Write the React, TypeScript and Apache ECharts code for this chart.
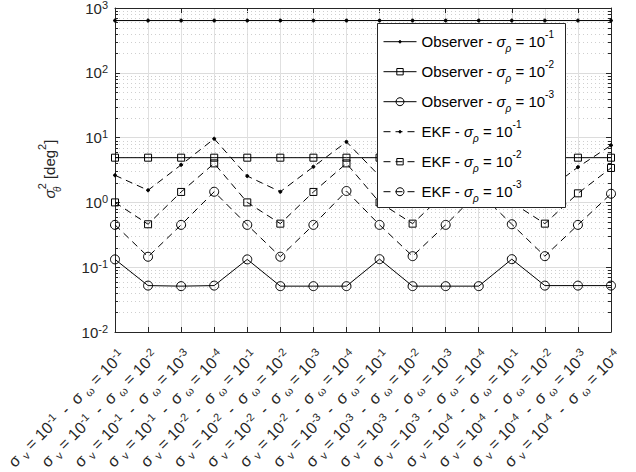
import React, { useEffect, useRef } from 'react';
import * as echarts from 'echarts';

// category labels: exponents of sigma_v and sigma_omega
const sigmaVExp = ['-1', '-1', '-1', '-1', '-2', '-2', '-2', '-2', '-3', '-3', '-3', '-3', '-4', '-4', '-4', '-4'];
const sigmaWExp = ['-1', '-2', '-3', '-4', '-1', '-2', '-3', '-4', '-1', '-2', '-3', '-4', '-1', '-2', '-3', '-4'];
const categories = sigmaVExp.map((v, i) => `v${v}_w${sigmaWExp[i]}`);

// series values
const observerRho1 = [640, 640, 640, 640, 640, 640, 640, 640, 640, 640, 640, 640, 640, 640, 640, 640];
const observerRho2 = [4.9, 4.9, 4.9, 4.9, 4.9, 4.9, 4.9, 4.9, 4.9, 4.9, 4.9, 4.9, 4.9, 4.9, 4.9, 4.9];
const observerRho3 = [0.132, 0.052, 0.051, 0.052, 0.132, 0.051, 0.051, 0.051, 0.133, 0.051, 0.051, 0.051, 0.133, 0.052, 0.052, 0.052];
const ekfRho1 = [2.62, 1.54, 3.8, 9.6, 2.55, 1.46, 3.55, 8.6, 2.55, 1.46, 3.5, 8.3, 2.5, 1.45, 3.5, 7.6];
const ekfRho2 = [1.0, 0.46, 1.45, 4.0, 1.0, 0.47, 1.45, 4.0, 1.0, 0.47, 1.42, 3.8, 1.0, 0.47, 1.38, 3.4];
const ekfRho3 = [0.45, 0.145, 0.45, 1.46, 0.45, 0.145, 0.45, 1.5, 0.45, 0.148, 0.45, 1.45, 0.46, 0.148, 0.45, 1.36];

const seriesNames = ['obs1', 'obs2', 'obs3', 'ekf1', 'ekf2', 'ekf3'];
const legendPrefix = ['Observer - ', 'Observer - ', 'Observer - ', 'EKF - ', 'EKF - ', 'EKF - '];
const legendRhoExp = ['-1', '-2', '-3', '-1', '-2', '-3'];

// minor log ticks
const minorTicks = [
  0.02, 0.03, 0.04, 0.05, 0.06, 0.07, 0.08, 0.09,
  0.2, 0.3, 0.4, 0.5, 0.6, 0.7, 0.8, 0.9,
  2, 3, 4, 5, 6, 7, 8, 9,
  20, 30, 40, 50, 60, 70, 80, 90,
  200, 300, 400, 500, 600, 700, 800, 900,
];

const FONT = 'Liberation Sans, Arial, Helvetica, sans-serif';
const TXT = '#262626';

export default function App() {
  const ref = useRef<HTMLDivElement>(null);
  useEffect(() => {
    document.body.style.margin = '0';
    const chart = echarts.init(ref.current!, null, { renderer: 'svg' });

    const richBase = {
      t: { fontSize: 15, fontFamily: FONT, color: '#000', lineHeight: 24 },
      i: { fontSize: 15, fontFamily: FONT, color: '#000', fontStyle: 'italic', lineHeight: 24 },
      sub: { fontSize: 10, fontFamily: FONT, color: '#000', fontStyle: 'italic', verticalAlign: 'bottom' },
      sup: { fontSize: 10, fontFamily: FONT, color: '#000', verticalAlign: 'top' },
    };

    const seriesData = [observerRho1, observerRho2, observerRho3, ekfRho1, ekfRho2, ekfRho3];
    const symbols = ['circle', 'rect', 'circle', 'circle', 'rect', 'circle'];
    const symbolSizes = [3, 7, 9, 3, 7, 9];
    const legendIconHeights = [3, 8, 10, 3, 8, 10];
    const filled = [true, false, false, true, false, false];

    const lineSeries = seriesData.map((d, k) => ({
      name: seriesNames[k],
      type: 'line',
      data: d,
      symbol: symbols[k],
      symbolSize: symbolSizes[k],
      showSymbol: true,
      z: 3,
      lineStyle: { color: '#000', width: 1, type: k < 3 ? 'solid' : [7, 5] },
      itemStyle: {
        color: filled[k] ? '#000' : 'rgba(0,0,0,0)',
        borderColor: '#000',
        borderWidth: 1,
      },
      emphasis: { disabled: true },
    }));

    const minorSeries = {
      type: 'custom',
      silent: true,
      z: 1,
      xAxisIndex: 0,
      yAxisIndex: 0,
      data: minorTicks.map((v) => [0, v]),
      encode: { x: 0, y: 1 },
      renderItem: (params: any, api: any) => {
        const pt = api.coord([0, api.value(1)]);
        const cs = params.coordSys;
        const y = Math.round(pt[1]) + 0.5;
        return {
          type: 'group',
          children: [
            {
              type: 'line',
              shape: { x1: cs.x, y1: y, x2: cs.x + cs.width, y2: y },
              style: { stroke: '#cfcfcf', lineWidth: 1, lineDash: [1, 3] },
            },
            {
              type: 'line',
              shape: { x1: cs.x, y1: y, x2: cs.x + 3, y2: y },
              style: { stroke: TXT, lineWidth: 1 },
            },
            {
              type: 'line',
              shape: { x1: cs.x + cs.width - 3, y1: y, x2: cs.x + cs.width, y2: y },
              style: { stroke: TXT, lineWidth: 1 },
            },
          ],
        };
      },
    };

    const legends = seriesNames.map((name, k) => ({
      data: [name],
      orient: 'vertical',
      left: 383,
      top: 29.7 + k * 30,
      padding: 0,
      z: 60,
      itemWidth: 33,
      itemHeight: legendIconHeights[k],
      itemTextGap: 7,
      selectedMode: false,
      lineStyle: { width: 1 },
      itemStyle: { borderWidth: 1 },
      formatter: (n: string) => {
        const i = seriesNames.indexOf(n);
        return `{t|${legendPrefix[i]}}{i|σ}{sub|ρ}{t| = 10}{sup|${legendRhoExp[i]}}`;
      },
      textStyle: { rich: richBase },
    }));

    const xRich = {
      t: { fontSize: 16, fontFamily: FONT, color: TXT, lineHeight: 20 },
      s: { fontSize: 16, fontFamily: FONT, color: TXT, lineHeight: 20 },
      sub: { fontSize: 11, fontFamily: FONT, color: TXT, verticalAlign: 'bottom' },
      sup: { fontSize: 11, fontFamily: FONT, color: TXT, verticalAlign: 'top' },
    };

    chart.setOption({
      animation: false,
      grid: { left: 115, right: 25, top: 8, bottom: 140, containLabel: false, outerBoundsMode: 'none' },
      legend: legends,
      graphic: [
        {
          type: 'rect',
          z: 50,
          shape: { x: 377.5, y: 23.5, width: 188, height: 184 },
          style: { fill: '#fff', stroke: TXT, lineWidth: 1 },
          silent: true,
        },
      ],
      xAxis: [
        {
          type: 'category',
          data: categories,
          boundaryGap: false,
          axisLine: { lineStyle: { color: TXT, width: 1 } },
          axisTick: { inside: true, length: 5, lineStyle: { color: TXT } },
          splitLine: { show: true, lineStyle: { color: '#e0e0e0', width: 1 } },
          axisLabel: {
            rotate: 45,
            margin: 14,
            interval: 0,
            hideOverlap: false,
            align: 'right',
            verticalAlign: 'top',
            formatter: (_v: string, i: number) =>
              `{s|σ }{sub|v}{t| = 10}{sup|${sigmaVExp[i]}}{t|  -  }{s|σ }{sub|ω}{t| = 10}{sup|${sigmaWExp[i]}}`,
            rich: xRich,
          },
        },
        {
          type: 'category',
          data: categories,
          boundaryGap: false,
          position: 'top',
          axisLine: { lineStyle: { color: TXT, width: 1 } },
          axisTick: { inside: true, length: 5, lineStyle: { color: TXT } },
          axisLabel: { show: false },
          splitLine: { show: false },
        },
      ],
      yAxis: [
        {
          type: 'log',
          logBase: 10,
          min: 0.01,
          max: 1000,
          splitNumber: 5,
          axisLine: { show: true, lineStyle: { color: TXT, width: 1 } },
          axisTick: { show: true, inside: true, length: 5, lineStyle: { color: TXT } },
          splitLine: { show: true, lineStyle: { color: '#dcdcdc', width: 1 } },
          axisLabel: {
            margin: 7,
            formatter: (v: number) => `{t|10}{sup|${Math.round(Math.log10(v))}}`,
            rich: {
              t: { fontSize: 15, fontFamily: FONT, color: TXT, lineHeight: 18 },
              sup: { fontSize: 11, fontFamily: FONT, color: TXT, verticalAlign: 'top' },
            },
          },
          name: '{i|σ}{sub0|θ}{sup|2}{t| [deg}{sup|2}{t|]}',
          nameLocation: 'middle',
          nameRotate: 90,
          nameGap: 53,
          nameTextStyle: {
            padding: [0, 0, 0, 2],
            rich: {
              t: { fontSize: 15, fontFamily: FONT, color: TXT, lineHeight: 26 },
              i: { fontSize: 15, fontFamily: FONT, color: TXT, fontStyle: 'italic', lineHeight: 26 },
              sub0: { fontSize: 10, fontFamily: FONT, color: TXT, fontStyle: 'italic', verticalAlign: 'bottom', width: 0 },
              sup: { fontSize: 11, fontFamily: FONT, color: TXT, verticalAlign: 'top' },
            },
          },
        },
        {
          type: 'log',
          logBase: 10,
          min: 0.01,
          max: 1000,
          splitNumber: 5,
          position: 'right',
          axisLine: { show: true, lineStyle: { color: TXT, width: 1 } },
          axisTick: { show: true, inside: true, length: 5, lineStyle: { color: TXT } },
          splitLine: { show: false },
          axisLabel: { show: false },
        },
      ],
      series: [minorSeries, ...lineSeries],
    });

    return () => chart.dispose();
  }, []);

  return <div ref={ref} style={{ width: 636, height: 472, background: '#fff' }} />;
}
